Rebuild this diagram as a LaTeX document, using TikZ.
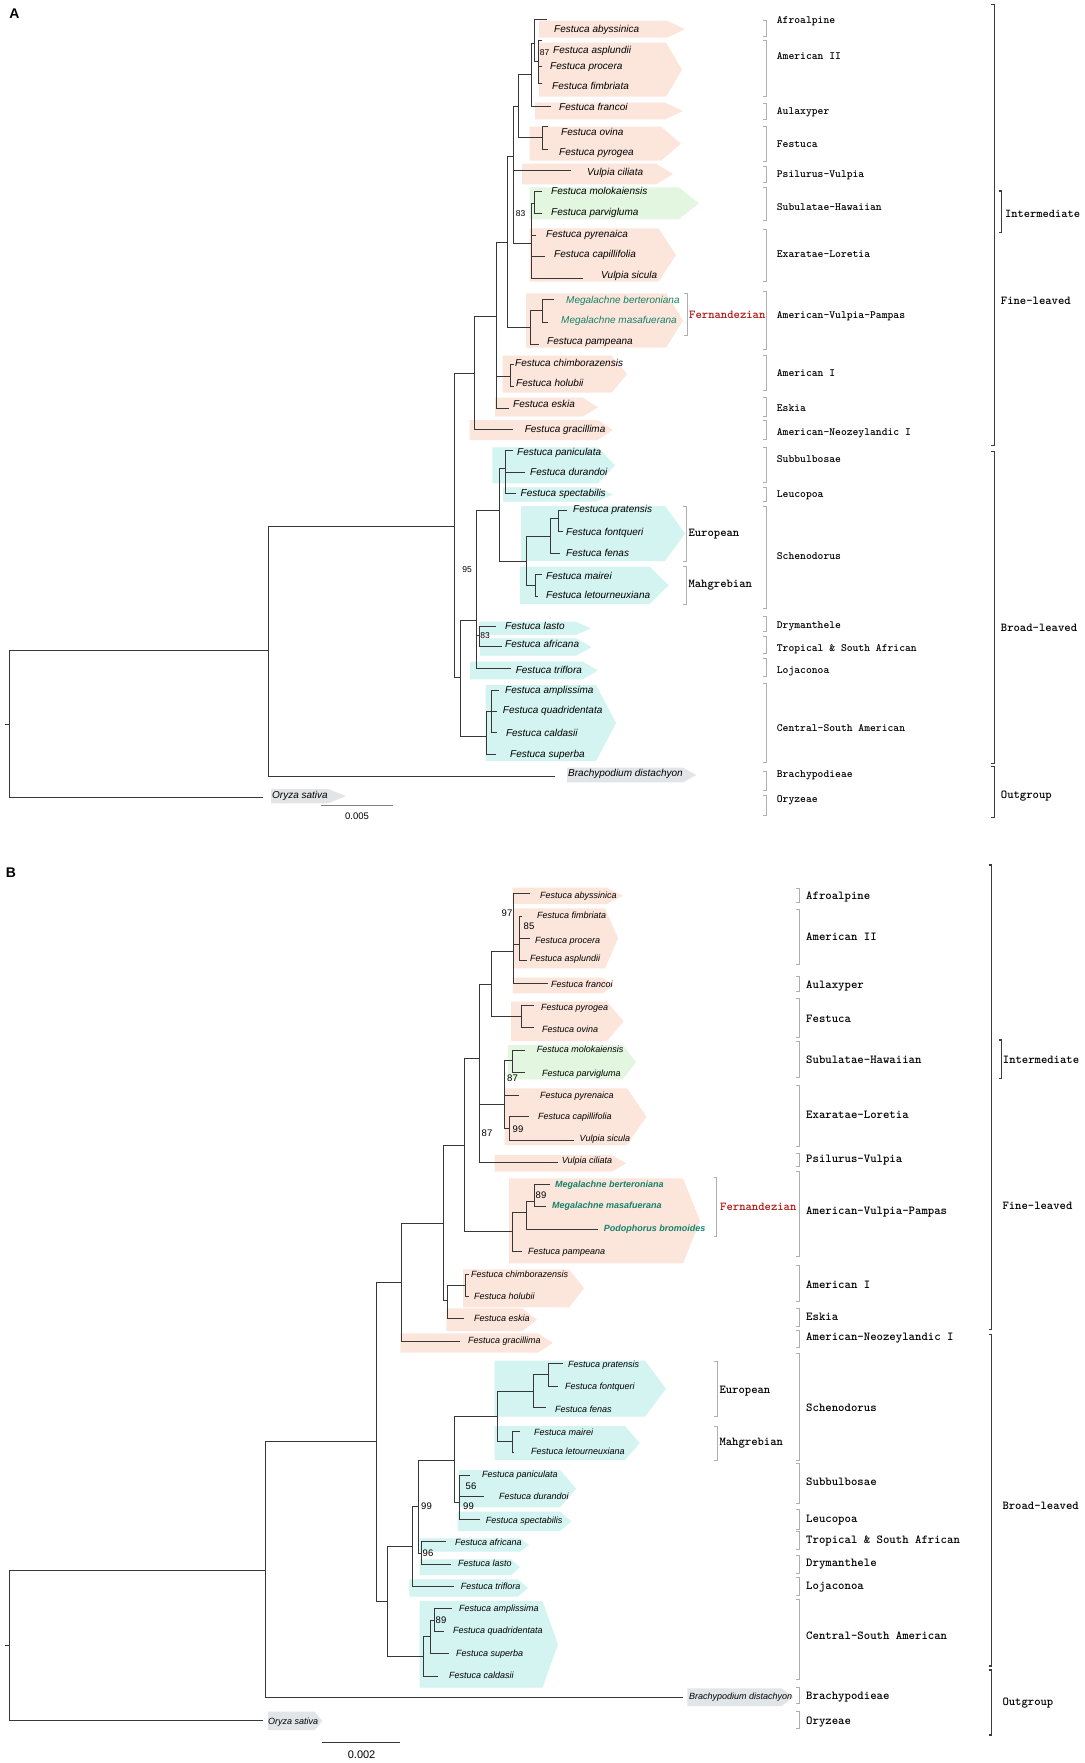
\documentclass[tikz,border=0pt]{standalone}
\usepackage{fontspec}
\setmainfont{Liberation Sans}
\newfontfamily\cladefont{lmmonolt10-bold}[Extension=.otf]
\usepackage{tikz}

\definecolor{finebox}{RGB}{252,229,219}
\definecolor{interbox}{RGB}{226,246,224}
\definecolor{broadbox}{RGB}{211,244,241}
\definecolor{outbox}{RGB}{226,229,232}
\definecolor{treeline}{RGB}{55,55,55}
\definecolor{megateal}{RGB}{20,130,105}
\definecolor{fernred}{RGB}{178,20,20}
\definecolor{brgray}{RGB}{175,175,175}
\definecolor{bigline}{RGB}{60,60,60}

\newcommand{\taxbox}[6]{\fill[#1] ({#2},{#5}) -- ({#3},{#5}) -- ({#4},{(#5+#6)/2}) -- ({#3},{#6}) -- ({#2},{#6}) -- cycle;}
\newcommand{\cladebr}[4]{\draw[#1] ({#2-3},{#3}) -- ({#2},{#3}) -- ({#2},{#4}) -- ({#2-3},{#4});}

\tikzset{
  branch/.style={draw=treeline, line width=0.9pt},
  smallbr/.style={draw=brgray, line width=0.8pt},
  bigbr/.style={draw=bigline, line width=1.3pt},
  taxa/.style={anchor=west, inner sep=0pt, text height=7.2pt, text depth=2pt, font=\fontsize{10}{12}\selectfont\itshape},
  taxb/.style={anchor=west, inner sep=0pt, text height=6.5pt, text depth=1.8pt, font=\fontsize{9}{11}\selectfont\itshape},
  mega/.style={text=megateal},
  megab/.style={text=megateal, font=\fontsize{9}{11}\selectfont\bfseries\itshape},
  cladea/.style={anchor=west, inner sep=0pt, text height=6.5pt, text depth=2pt, font=\cladefont\fontsize{11.1}{12}\selectfont},
  cladeb/.style={anchor=west, inner sep=0pt, text height=7pt, text depth=2pt, font=\cladefont\fontsize{12.2}{13}\selectfont},
  group/.style={anchor=west, inner sep=0pt, text height=7pt, text depth=2pt, font=\cladefont\fontsize{12.1}{13}\selectfont},
  fern/.style={group, text=fernred},
  boota/.style={inner sep=0pt, font=\fontsize{8.5}{9}\selectfont},
  bootb/.style={inner sep=0pt, font=\fontsize{9.5}{10}\selectfont},
  scalebar/.style={line width=0.9pt},
  panel/.style={inner sep=0pt, font=\fontsize{14}{16}\selectfont\bfseries}
}

\begin{document}
\begin{tikzpicture}[x=1pt, y=-1pt]
\fill[white] (0,0) rectangle (1084,1763);
\useasboundingbox (0,0) rectangle (1084,1763);

\taxbox{finebox}{539}{667}{685}{20.7}{37.7}
\taxbox{finebox}{539}{666}{682}{42.7}{96.7}
\taxbox{finebox}{535}{665}{683}{102.7}{119.3}
\taxbox{finebox}{529.5}{661}{681}{126.7}{160.7}
\taxbox{finebox}{522}{656}{673}{163.7}{184.3}
\taxbox{interbox}{529.5}{678.6}{698.7}{187.3}{219.3}
\taxbox{finebox}{529.5}{658.5}{676}{228.3}{281.7}
\taxbox{finebox}{526}{666}{683}{293.3}{347.7}
\taxbox{finebox}{502.7}{611.6}{627}{355.7}{392.7}
\taxbox{finebox}{495}{582.6}{598}{397.7}{416.7}
\taxbox{finebox}{469.6}{598}{612.5}{420}{440}
\taxbox{broadbox}{492.4}{598}{615}{447.3}{483.3}
\taxbox{broadbox}{503}{596}{613}{487.3}{501.7}
\taxbox{broadbox}{521}{665}{685}{506}{561}
\taxbox{broadbox}{520}{649.6}{668.7}{566.7}{604}
\taxbox{broadbox}{479}{576}{590.6}{621.7}{635}
\taxbox{broadbox}{480}{576}{591.5}{638.3}{655.7}
\taxbox{broadbox}{470}{582.6}{598}{661.7}{679.3}
\taxbox{broadbox}{485.7}{596}{616}{685}{761}
\taxbox{outbox}{567}{683}{696.4}{767.7}{782.3}
\taxbox{outbox}{271}{328}{346}{789}{803.3}

\coordinate (a-stub) at (4.5,724);
\coordinate (a-root) at (9.8,724);
\coordinate (a-n1) at (268,650.7);
\coordinate (a-ory) at (263,797.7);
\coordinate (a-ing) at (454,526);
\coordinate (a-bra) at (555,776);
\coordinate (a-fl) at (474,373.3);
\coordinate (a-bl) at (460,677.7);
\coordinate (a-fl2) at (496.4,316.7);
\coordinate (a-gra) at (513.4,429.3);
\coordinate (a-u) at (507.6,242.3);
\coordinate (a-am1) at (510,376.7);
\coordinate (a-esk) at (509,408.3);
\coordinate (a-chi) at (514,364);
\coordinate (a-hol) at (514,386.7);
\coordinate (a-u2) at (513.4,156.7);
\coordinate (a-avp) at (530,327.3);
\coordinate (a-u3) at (518.7,106);
\coordinate (a-vci) at (570.5,170.7);
\coordinate (a-n83) at (531.2,243.3);
\coordinate (a-u4) at (531.2,74.7);
\coordinate (a-fes) at (542.4,137.7);
\coordinate (a-u5) at (534.8,43.3);
\coordinate (a-fra) at (551.3,106);
\coordinate (a-aby) at (546.9,19);
\coordinate (a-am2) at (538.8,61.7);
\coordinate (a-asp) at (542.4,40.7);
\coordinate (a-pro) at (542.4,66.7);
\coordinate (a-fim) at (542.4,83.3);
\coordinate (a-ovi) at (548,126.7);
\coordinate (a-pyg) at (548,149);
\coordinate (a-sub) at (534.8,203.3);
\coordinate (a-mol) at (541.5,191.7);
\coordinate (a-par) at (541.5,213.3);
\coordinate (a-pyr) at (535.7,235);
\coordinate (a-cap) at (544.6,256.7);
\coordinate (a-vsi) at (582.6,278.3);
\coordinate (a-meg) at (542.4,310.3);
\coordinate (a-pam) at (538.8,344);
\coordinate (a-ber) at (553.6,299.3);
\coordinate (a-mas) at (548,322.3);
\coordinate (a-bl2) at (476.8,620);
\coordinate (a-csa) at (486.6,736);
\coordinate (a-eur) at (499,510);
\coordinate (a-laf) at (479,635);
\coordinate (a-tri) at (511,668.3);
\coordinate (a-sbb) at (505.8,468.3);
\coordinate (a-sch) at (526.8,561.7);
\coordinate (a-pan) at (512.5,450);
\coordinate (a-dur) at (524.6,472.7);
\coordinate (a-spe) at (515.6,493.3);
\coordinate (a-ero) at (550.4,536.7);
\coordinate (a-mah) at (535.7,585);
\coordinate (a-pf) at (558,518.3);
\coordinate (a-fen) at (560,553.3);
\coordinate (a-pra) at (567,510);
\coordinate (a-fon) at (563,531.7);
\coordinate (a-mai) at (541.5,574);
\coordinate (a-let) at (538,596.7);
\coordinate (a-las) at (495.5,626.7);
\coordinate (a-afr) at (502,646.7);
\coordinate (a-cs2) at (491,711.7);
\coordinate (a-sup) at (495.5,754.3);
\coordinate (a-amp) at (499,690);
\coordinate (a-qua) at (497,711.7);
\coordinate (a-cal) at (497,732.7);

\draw[branch] (a-stub) -- (a-root)
  (a-root) |- (a-n1) (a-root) |- (a-ory)
  (a-n1) |- (a-ing) (a-n1) |- (a-bra)
  (a-ing) |- (a-fl) (a-ing) |- (a-bl)
  (a-fl) |- (a-fl2) (a-fl) |- (a-gra)
  (a-fl2) |- (a-u) (a-fl2) |- (a-am1) (a-fl2) |- (a-esk)
  (a-am1) |- (a-chi) (a-am1) |- (a-hol)
  (a-u) |- (a-u2) (a-u) |- (a-avp)
  (a-u2) |- (a-u3) (a-u2) |- (a-vci) (a-u2) |- (a-n83)
  (a-u3) |- (a-u4) (a-u3) |- (a-fes)
  (a-u4) |- (a-u5) (a-u4) |- (a-fra)
  (a-u5) |- (a-aby) (a-u5) |- (a-am2)
  (a-am2) |- (a-asp) (a-am2) |- (a-pro) (a-am2) |- (a-fim)
  (a-fes) |- (a-ovi) (a-fes) |- (a-pyg)
  (a-n83) |- (a-sub) (a-n83) |- (a-pyr) (a-n83) |- (a-cap) (a-n83) |- (a-vsi)
  (a-sub) |- (a-mol) (a-sub) |- (a-par)
  (a-avp) |- (a-meg) (a-avp) |- (a-pam)
  (a-meg) |- (a-ber) (a-meg) |- (a-mas)
  (a-bl) |- (a-bl2) (a-bl) |- (a-csa)
  (a-bl2) |- (a-eur) (a-bl2) |- (a-laf) (a-bl2) |- (a-tri)
  (a-eur) |- (a-sbb) (a-eur) |- (a-sch)
  (a-sbb) |- (a-pan) (a-sbb) |- (a-dur) (a-sbb) |- (a-spe)
  (a-sch) |- (a-ero) (a-sch) |- (a-mah)
  (a-ero) |- (a-pf) (a-ero) |- (a-fen)
  (a-pf) |- (a-pra) (a-pf) |- (a-fon)
  (a-mah) |- (a-mai) (a-mah) |- (a-let)
  (a-laf) |- (a-las) (a-laf) |- (a-afr)
  (a-csa) |- (a-cs2) (a-csa) |- (a-sup)
  (a-cs2) |- (a-amp) (a-cs2) |- (a-qua) (a-cs2) |- (a-cal);

\node[taxa] (a-lab-aby) at (554,29.7) {Festuca abyssinica};
\node[taxa] (a-lab-asp) at (553,50.7) {Festuca asplundii};
\node[taxa] (a-lab-pro) at (550,67) {Festuca procera};
\node[taxa] (a-lab-fim) at (552,86.7) {Festuca fimbriata};
\node[taxa] (a-lab-fra) at (559,108) {Festuca francoi};
\node[taxa] (a-lab-ovi) at (561,132.7) {Festuca ovina};
\node[taxa] (a-lab-pyg) at (559,152.7) {Festuca pyrogea};
\node[taxa] (a-lab-vci) at (587,173) {Vulpia ciliata};
\node[taxa] (a-lab-mol) at (551,192) {Festuca molokaiensis};
\node[taxa] (a-lab-par) at (551,212.7) {Festuca parvigluma};
\node[taxa] (a-lab-pyr) at (546,235) {Festuca pyrenaica};
\node[taxa] (a-lab-cap) at (554,255.3) {Festuca capillifolia};
\node[taxa] (a-lab-vsi) at (601,275.7) {Vulpia sicula};
\node[taxa, mega] (a-lab-ber) at (566,300.7) {Megalachne berteroniana};
\node[taxa, mega] (a-lab-mas) at (561,321.3) {Megalachne masafuerana};
\node[taxa] (a-lab-pam) at (547,341.7) {Festuca pampeana};
\node[taxa] (a-lab-chi) at (515,363.7) {Festuca chimborazensis};
\node[taxa] (a-lab-hol) at (516,384.3) {Festuca holubii};
\node[taxa] (a-lab-esk) at (513,405) {Festuca eskia};
\node[taxa] (a-lab-gra) at (524.6,429.7) {Festuca gracillima};
\node[taxa] (a-lab-pan) at (517,453) {Festuca paniculata};
\node[taxa] (a-lab-dur) at (530,473.3) {Festuca durandoi};
\node[taxa] (a-lab-spe) at (520.5,493.7) {Festuca spectabilis};
\node[taxa] (a-lab-pra) at (573,510.3) {Festuca pratensis};
\node[taxa] (a-lab-fon) at (566,533) {Festuca fontqueri};
\node[taxa] (a-lab-fen) at (566,553.7) {Festuca fenas};
\node[taxa] (a-lab-mai) at (546,577) {Festuca mairei};
\node[taxa] (a-lab-let) at (546,595.7) {Festuca letourneuxiana};
\node[taxa] (a-lab-las) at (505,627) {Festuca lasto};
\node[taxa] (a-lab-afr) at (505,645) {Festuca africana};
\node[taxa] (a-lab-tri) at (515.6,671) {Festuca triflora};
\node[taxa] (a-lab-amp) at (505,691) {Festuca amplissima};
\node[taxa] (a-lab-qua) at (502.7,711.3) {Festuca quadridentata};
\node[taxa] (a-lab-cal) at (505.8,734) {Festuca caldasii};
\node[taxa] (a-lab-sup) at (510,755) {Festuca superba};
\node[taxa] (a-lab-bra) at (568,774) {Brachypodium distachyon};
\node[taxa] (a-lab-ory) at (272,796) {Oryza sativa};

\node[boota] (a-bs87) at (544.5,53) {87};
\node[boota] (a-bs83) at (520.5,213.3) {83};
\node[boota] (a-bs95) at (467,570) {95};
\node[boota] (a-bs83b) at (485,636) {83};

\coordinate (a-sc1) at (321.4,805);
\coordinate (a-sc2) at (392.9,805);
\draw[scalebar, draw=gray] (a-sc1) -- (a-sc2);
\node[boota, font=\fontsize{9.5}{10}\selectfont] (a-scale) at (357,816) {0.005};
\node[panel] (a-panel) at (14.5,13.3) {A};

\cladebr{smallbr}{766}{20.7}{36.7}
\cladebr{smallbr}{766}{40.7}{96.7}
\cladebr{smallbr}{766}{103.3}{119.3}
\cladebr{smallbr}{766}{126.7}{161.7}
\cladebr{smallbr}{766}{166}{182.7}
\cladebr{smallbr}{766}{187.3}{220.7}
\cladebr{smallbr}{766}{229.3}{281}
\cladebr{smallbr}{766}{291.7}{349}
\cladebr{smallbr}{766}{355}{390.7}
\cladebr{smallbr}{766}{397.3}{416.7}
\cladebr{smallbr}{766}{420.7}{439.3}
\cladebr{smallbr}{766}{447.3}{482.7}
\cladebr{smallbr}{766}{487.3}{501.7}
\cladebr{smallbr}{766}{506.7}{608.3}
\cladebr{smallbr}{766}{616}{631.7}
\cladebr{smallbr}{766}{636.7}{653.3}
\cladebr{smallbr}{766}{658.7}{676.7}
\cladebr{smallbr}{766}{683.3}{762.7}
\cladebr{smallbr}{766}{771}{790}
\cladebr{smallbr}{766}{795.7}{815}
\cladebr{smallbr}{687}{293.3}{335}
\cladebr{smallbr}{686}{506.7}{561}
\cladebr{smallbr}{686}{566.7}{604}
\cladebr{bigbr}{994.3}{4.7}{445.7}
\cladebr{bigbr}{994.3}{451.7}{763.3}
\cladebr{bigbr}{994.3}{766.7}{817.3}
\cladebr{bigbr}{1001.7}{191}{232.7}

\node[cladea] (a-afro) at (776.7,21.7) {Afroalpine};
\node[cladea] (a-amii) at (776.7,57.3) {American II};
\node[cladea] (a-aula) at (776.7,112.7) {Aulaxyper};
\node[cladea] (a-fest) at (776.7,145.3) {Festuca};
\node[cladea] (a-psil) at (776.7,175.7) {Psilurus-Vulpia};
\node[cladea] (a-subu) at (776.7,208.3) {Subulatae-Hawaiian};
\node[cladea] (a-exar) at (776.7,255) {Exaratae-Loretia};
\node[cladea] (a-avpc) at (776.7,316) {American-Vulpia-Pampas};
\node[cladea] (a-ami) at (776.7,374) {American I};
\node[cladea] (a-eski) at (776.7,409.3) {Eskia};
\node[cladea] (a-anz) at (776.7,433.3) {American-Neozeylandic I};
\node[cladea] (a-subb) at (776.7,460) {Subbulbosae};
\node[cladea] (a-leuc) at (776.7,495.7) {Leucopoa};
\node[cladea] (a-sche) at (776.7,557.3) {Schenodorus};
\node[cladea] (a-drym) at (776.7,626) {Drymanthele};
\node[cladea] (a-trop) at (776.7,649) {Tropical \& South African};
\node[cladea] (a-loja) at (776.7,671) {Lojaconoa};
\node[cladea] (a-cent) at (776.7,729.3) {Central-South American};
\node[cladea] (a-brac) at (776.7,775.7) {Brachypodieae};
\node[cladea] (a-oryz) at (776.7,800) {Oryzeae};
\node[fern] (a-fern) at (689,316) {Fernandezian};
\node[group] (a-euro) at (688.3,534) {European};
\node[group] (a-mahg) at (688.3,585) {Mahgrebian};
\node[group] (a-fine) at (1000.7,301.7) {Fine-leaved};
\node[group, font=\cladefont\fontsize{11.9}{13}\selectfont] (a-inter) at (1005,215) {Intermediate};
\node[group] (a-broad) at (1000.7,629) {Broad-leaved};
\node[group] (a-out) at (1000.7,795.7) {Outgroup};

\taxbox{finebox}{512.5}{607}{622.8}{887.7}{904}
\taxbox{finebox}{513.4}{605}{618}{908.3}{968.3}
\taxbox{finebox}{512.5}{602.7}{613.8}{977.7}{993.3}
\taxbox{finebox}{511}{607}{623.7}{1001.7}{1041}
\taxbox{interbox}{508}{622.8}{636}{1045}{1079.3}
\taxbox{finebox}{504.5}{627}{646.4}{1088.3}{1145}
\taxbox{finebox}{494.6}{611.6}{626.3}{1155}{1171.7}
\taxbox{finebox}{509}{683}{700}{1178.3}{1263.3}
\taxbox{finebox}{463}{569}{584}{1269.3}{1307.3}
\taxbox{finebox}{446.4}{522.3}{537}{1308.3}{1331}
\taxbox{finebox}{400.4}{538}{552.7}{1333.3}{1352.7}
\taxbox{broadbox}{494.6}{645}{666}{1360.7}{1416.7}
\taxbox{broadbox}{494.6}{625}{639.7}{1426}{1460}
\taxbox{broadbox}{458.5}{560}{576}{1470}{1507.3}
\taxbox{broadbox}{457.6}{560}{571.4}{1511.7}{1531}
\taxbox{broadbox}{419.6}{520}{529}{1538.3}{1551.7}
\taxbox{broadbox}{419.6}{511}{520}{1559.3}{1575}
\taxbox{broadbox}{409.4}{517.9}{528}{1579.3}{1596.7}
\taxbox{broadbox}{419.6}{542.4}{558}{1601}{1687.7}
\taxbox{outbox}{687.3}{781.7}{793.3}{1688.3}{1706}
\taxbox{outbox}{268}{314.7}{322.3}{1711.7}{1730}

\coordinate (b-stub) at (4.5,1645.7);
\coordinate (b-root) at (9.8,1645.7);
\coordinate (b-n1) at (265.6,1570);
\coordinate (b-ory) at (263.4,1720.7);
\coordinate (b-ing) at (376.3,1441.7);
\coordinate (b-bra) at (683,1697.7);
\coordinate (b-fl) at (401.8,1282.3);
\coordinate (b-bl) at (387.5,1601.7);
\coordinate (b-fl2) at (443.3,1223.3);
\coordinate (b-gra) at (459.8,1341.3);
\coordinate (b-u) at (464.3,1145);
\coordinate (b-fl3) at (447.8,1300);
\coordinate (b-am1) at (465.6,1285);
\coordinate (b-esk) at (464.3,1318.3);
\coordinate (b-chi) at (469,1274);
\coordinate (b-hol) at (469,1296.7);
\coordinate (b-u2) at (479,1058.3);
\coordinate (b-avp) at (512.5,1231.7);
\coordinate (b-u3) at (491,984.3);
\coordinate (b-n87) at (504.5,1104);
\coordinate (b-vci) at (558,1162.3);
\coordinate (b-u4) at (513.4,951.7);
\coordinate (b-fes) at (521.4,1016.7);
\coordinate (b-aby) at (530,893.3);
\coordinate (b-am2) at (519,944.3);
\coordinate (b-fra) at (548,983.3);
\coordinate (b-fim) at (522,916.7);
\coordinate (b-pro) at (530,938.3);
\coordinate (b-asp) at (527,960);
\coordinate (b-pyg) at (534.4,1005.7);
\coordinate (b-ovi) at (533.5,1027.7);
\coordinate (b-sub) at (512.5,1060.7);
\coordinate (b-pyr) at (518.7,1095);
\coordinate (b-csv) at (509,1128.3);
\coordinate (b-mol) at (524.6,1050);
\coordinate (b-par) at (524.6,1072.7);
\coordinate (b-cap) at (529,1116.7);
\coordinate (b-vsi) at (573.7,1140);
\coordinate (b-mg2) at (526.8,1212);
\coordinate (b-pam) at (522.3,1251.7);
\coordinate (b-meg) at (534.4,1201.7);
\coordinate (b-pod) at (598,1229);
\coordinate (b-ber) at (550,1184.3);
\coordinate (b-mas) at (545.5,1206.7);
\coordinate (b-bl2) at (412,1546);
\coordinate (b-csa) at (423.2,1656);
\coordinate (b-bl3) at (418.3,1506.7);
\coordinate (b-tri) at (454,1586.7);
\coordinate (b-eur) at (454,1460);
\coordinate (b-laf) at (421,1553.3);
\coordinate (b-afr) at (446.4,1541.7);
\coordinate (b-las) at (450.9,1564.3);
\coordinate (b-sch) at (497.8,1416.7);
\coordinate (b-sbb) at (459.8,1502.7);
\coordinate (b-ero) at (533.5,1391);
\coordinate (b-mah) at (512.5,1441.7);
\coordinate (b-pf) at (548.2,1374.3);
\coordinate (b-fen) at (545.5,1407.7);
\coordinate (b-pra) at (562.5,1363.3);
\coordinate (b-fon) at (558,1386);
\coordinate (b-mai) at (520,1431);
\coordinate (b-let) at (514,1452.7);
\coordinate (b-pan) at (469.6,1475);
\coordinate (b-dur) at (484.4,1496.7);
\coordinate (b-spe) at (480,1519.3);
\coordinate (b-cs2) at (430.8,1636.7);
\coordinate (b-cal) at (437.5,1676);
\coordinate (b-cs3) at (434,1620);
\coordinate (b-sup) at (448.7,1653.3);
\coordinate (b-amp) at (452,1608.3);
\coordinate (b-qua) at (444,1631);

\draw[branch] (b-stub) -- (b-root)
  (b-root) |- (b-n1) (b-root) |- (b-ory)
  (b-n1) |- (b-ing) (b-n1) |- (b-bra)
  (b-ing) |- (b-fl) (b-ing) |- (b-bl)
  (b-fl) |- (b-fl2) (b-fl) |- (b-gra)
  (b-fl2) |- (b-u) (b-fl2) |- (b-fl3)
  (b-fl3) |- (b-am1) (b-fl3) |- (b-esk)
  (b-am1) |- (b-chi) (b-am1) |- (b-hol)
  (b-u) |- (b-u2) (b-u) |- (b-avp)
  (b-u2) |- (b-u3) (b-u2) |- (b-n87) (b-u2) |- (b-vci)
  (b-u3) |- (b-u4) (b-u3) |- (b-fes)
  (b-u4) |- (b-aby) (b-u4) |- (b-am2) (b-u4) |- (b-fra)
  (b-am2) |- (b-fim) (b-am2) |- (b-pro) (b-am2) |- (b-asp)
  (b-fes) |- (b-pyg) (b-fes) |- (b-ovi)
  (b-n87) |- (b-sub) (b-n87) |- (b-pyr) (b-n87) |- (b-csv)
  (b-sub) |- (b-mol) (b-sub) |- (b-par)
  (b-csv) |- (b-cap) (b-csv) |- (b-vsi)
  (b-avp) |- (b-mg2) (b-avp) |- (b-pam)
  (b-mg2) |- (b-meg) (b-mg2) |- (b-pod)
  (b-meg) |- (b-ber) (b-meg) |- (b-mas)
  (b-bl) |- (b-bl2) (b-bl) |- (b-csa)
  (b-bl2) |- (b-bl3) (b-bl2) |- (b-tri)
  (b-bl3) |- (b-eur) (b-bl3) |- (b-laf)
  (b-laf) |- (b-afr) (b-laf) |- (b-las)
  (b-eur) |- (b-sch) (b-eur) |- (b-sbb)
  (b-sch) |- (b-ero) (b-sch) |- (b-mah)
  (b-ero) |- (b-pf) (b-ero) |- (b-fen)
  (b-pf) |- (b-pra) (b-pf) |- (b-fon)
  (b-mah) |- (b-mai) (b-mah) |- (b-let)
  (b-sbb) |- (b-pan) (b-sbb) |- (b-dur) (b-sbb) |- (b-spe)
  (b-csa) |- (b-cs2) (b-csa) |- (b-cal)
  (b-cs2) |- (b-cs3) (b-cs2) |- (b-sup)
  (b-cs3) |- (b-amp) (b-cs3) |- (b-qua);

\node[taxb] (b-lab-aby) at (540,896) {Festuca abyssinica};
\node[taxb] (b-lab-fim) at (537,916) {Festuca fimbriata};
\node[taxb] (b-lab-pro) at (535,940.7) {Festuca procera};
\node[taxb] (b-lab-asp) at (530,959) {Festuca asplundii};
\node[taxb] (b-lab-fra) at (551,985.3) {Festuca francoi};
\node[taxb] (b-lab-pyg) at (541,1008) {Festuca pyrogea};
\node[taxb] (b-lab-ovi) at (542,1030) {Festuca ovina};
\node[taxb] (b-lab-mol) at (536.6,1050.3) {Festuca molokaiensis};
\node[taxb] (b-lab-par) at (542,1073.7) {Festuca parvigluma};
\node[taxb] (b-lab-pyr) at (540,1095.7) {Festuca pyrenaica};
\node[taxb] (b-lab-cap) at (538,1117.3) {Festuca capillifolia};
\node[taxb] (b-lab-vsi) at (579.5,1139) {Vulpia sicula};
\node[taxb] (b-lab-vci) at (561.6,1161.3) {Vulpia ciliata};
\node[taxb, megab] (b-lab-ber) at (555,1185.3) {Megalachne berteroniana};
\node[taxb, megab] (b-lab-mas) at (552,1206.3) {Megalachne masafuerana};
\node[taxb, megab] (b-lab-pod) at (603.6,1228.7) {Podophorus bromoides};
\node[taxb] (b-lab-pam) at (528,1251.7) {Festuca pampeana};
\node[taxb] (b-lab-chi) at (471,1274.7) {Festuca chimborazensis};
\node[taxb] (b-lab-hol) at (474,1296.7) {Festuca holubii};
\node[taxb] (b-lab-esk) at (474,1319) {Festuca eskia};
\node[taxb] (b-lab-gra) at (468,1341.3) {Festuca gracillima};
\node[taxb] (b-lab-pra) at (568,1365.3) {Festuca pratensis};
\node[taxb] (b-lab-fon) at (565,1387.3) {Festuca fontqueri};
\node[taxb] (b-lab-fen) at (555,1409.7) {Festuca fenas};
\node[taxb] (b-lab-mai) at (534,1432.7) {Festuca mairei};
\node[taxb] (b-lab-let) at (531,1452) {Festuca letourneuxiana};
\node[taxb] (b-lab-pan) at (482,1475.3) {Festuca paniculata};
\node[taxb] (b-lab-dur) at (499,1496.7) {Festuca durandoi};
\node[taxb] (b-lab-spe) at (485.7,1521) {Festuca spectabilis};
\node[taxb] (b-lab-afr) at (455,1543.3) {Festuca africana};
\node[taxb] (b-lab-las) at (458,1564.3) {Festuca lasto};
\node[taxb] (b-lab-tri) at (460.7,1586.7) {Festuca triflora};
\node[taxb] (b-lab-amp) at (459,1609) {Festuca amplissima};
\node[taxb] (b-lab-qua) at (453,1631.3) {Festuca quadridentata};
\node[taxb] (b-lab-sup) at (456,1653.7) {Festuca superba};
\node[taxb] (b-lab-cal) at (449,1676) {Festuca caldasii};
\node[taxb] (b-lab-bra) at (689,1697.3) {Brachypodium distachyon};
\node[taxb] (b-lab-ory) at (268,1721.7) {Oryza sativa};

\node[bootb] (b-bs97) at (507,913.3) {97};
\node[bootb] (b-bs85) at (529,926.7) {85};
\node[bootb] (b-bs87) at (512.5,1078.3) {87};
\node[bootb] (b-bs99) at (518,1129) {99};
\node[bootb] (b-bs87b) at (487,1133) {87};
\node[bootb] (b-bs89) at (541,1195) {89};
\node[bootb] (b-bs56) at (471,1486) {56};
\node[bootb] (b-bs99b) at (468.5,1506.7) {99};
\node[bootb] (b-bs99c) at (426.5,1506.7) {99};
\node[bootb] (b-bs96) at (428,1553.7) {96};
\node[bootb] (b-bs89b) at (441,1620.7) {89};

\coordinate (b-sc1) at (322,1742.7);
\coordinate (b-sc2) at (399.6,1742.7);
\draw[scalebar, draw=treeline] (b-sc1) -- (b-sc2);
\node[bootb, font=\fontsize{11}{12}\selectfont] (b-scale) at (361.6,1755) {0.002};
\node[panel] (b-panel) at (11,872.7) {B};

\cladebr{smallbr}{799}{888.3}{902.3}
\cladebr{smallbr}{799}{909.3}{964.3}
\cladebr{smallbr}{799}{976}{991.7}
\cladebr{smallbr}{799}{998.3}{1037.7}
\cladebr{smallbr}{799}{1041.7}{1077.7}
\cladebr{smallbr}{799}{1085}{1146.7}
\cladebr{smallbr}{799}{1153.3}{1166}
\cladebr{smallbr}{799}{1171.7}{1256}
\cladebr{smallbr}{799}{1265}{1301}
\cladebr{smallbr}{799}{1308.3}{1326}
\cladebr{smallbr}{799}{1330}{1347.7}
\cladebr{smallbr}{799}{1353.3}{1460}
\cladebr{smallbr}{799}{1463.3}{1503.3}
\cladebr{smallbr}{799}{1509.3}{1529.3}
\cladebr{smallbr}{799}{1531.7}{1549.3}
\cladebr{smallbr}{799}{1555}{1573.3}
\cladebr{smallbr}{799}{1577.3}{1595}
\cladebr{smallbr}{799}{1599.3}{1679.3}
\cladebr{smallbr}{799}{1687.7}{1703.3}
\cladebr{smallbr}{799}{1711.7}{1728.3}
\cladebr{smallbr}{716.7}{1177.3}{1236}
\cladebr{smallbr}{717.3}{1361.7}{1416.7}
\cladebr{smallbr}{717.3}{1426}{1460}
\cladebr{bigbr}{991.7}{865}{1329.3}
\cladebr{bigbr}{991.7}{1334.3}{1666}
\cladebr{bigbr}{991.7}{1670}{1735}
\cladebr{bigbr}{1001.7}{1040}{1078.3}

\node[cladeb] (b-afro) at (806,896.7) {Afroalpine};
\node[cladeb] (b-amii) at (806,938.3) {American II};
\node[cladeb] (b-aula) at (806,985.7) {Aulaxyper};
\node[cladeb] (b-fest) at (806,1020) {Festuca};
\node[cladeb] (b-subu) at (806,1060.7) {Subulatae-Hawaiian};
\node[cladeb] (b-exar) at (806,1115.7) {Exaratae-Loretia};
\node[cladeb] (b-psil) at (806,1160) {Psilurus-Vulpia};
\node[cladeb] (b-avpc) at (806,1212.3) {American-Vulpia-Pampas};
\node[cladeb] (b-ami) at (806,1285.7) {American I};
\node[cladeb] (b-eski) at (806,1317.7) {Eskia};
\node[cladeb] (b-anz) at (806,1338.3) {American-Neozeylandic I};
\node[cladeb] (b-sche) at (806,1409.3) {Schenodorus};
\node[cladeb] (b-subb) at (806,1483.3) {Subbulbosae};
\node[cladeb] (b-leuc) at (806,1520) {Leucopoa};
\node[cladeb] (b-trop) at (806,1540.7) {Tropical \& South African};
\node[cladeb] (b-drym) at (806,1564.3) {Drymanthele};
\node[cladeb] (b-loja) at (806,1586.7) {Lojaconoa};
\node[cladeb] (b-cent) at (806,1636.7) {Central-South American};
\node[cladeb] (b-brac) at (806,1696.7) {Brachypodieae};
\node[cladeb] (b-oryz) at (806,1722.3) {Oryzeae};
\node[fern] (b-fern) at (720,1208.3) {Fernandezian};
\node[group] (b-euro) at (719.3,1390.7) {European};
\node[group] (b-mahg) at (719.3,1443.3) {Mahgrebian};
\node[group] (b-fine) at (1002.3,1207.3) {Fine-leaved};
\node[group] (b-inter) at (1002.7,1060.7) {Intermediate};
\node[group] (b-broad) at (1002.3,1506.7) {Broad-leaved};
\node[group] (b-out) at (1002.3,1703.3) {Outgroup};
\end{tikzpicture}
\end{document}
